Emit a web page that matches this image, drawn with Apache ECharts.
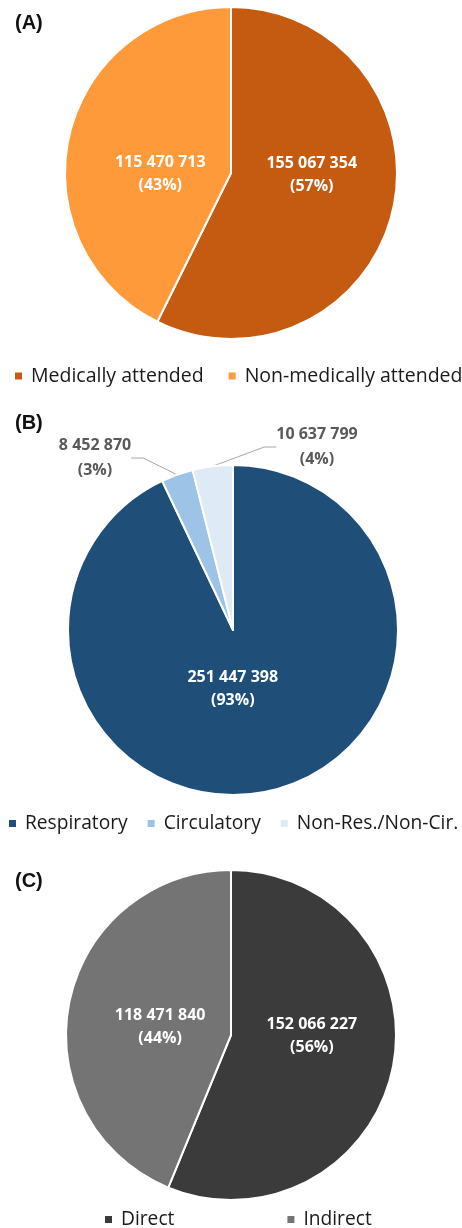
<!DOCTYPE html>
<html><head><meta charset="utf-8">
<script src="https://cdn.jsdelivr.net/npm/echarts@6/dist/echarts.min.js"></script>
<style>html,body{margin:0;padding:0;background:#fff}#c{width:462px;height:1228px}</style>
</head><body><div id="c"></div>
<script>
var catA = ['Medically attended', 'Non-medically attended'];
var valA = [155067354, 115470713];
var pctA = ['57%', '43%'];
var catB = ['Respiratory', 'Circulatory', 'Non-Res./Non-Cir.'];
var valB = [251447398, 8452870, 10637799];
var pctB = ['93%', '3%', '4%'];
var catC = ['Direct', 'Indirect'];
var valC = [152066227, 118471840];
var pctC = ['56%', '44%'];

var colA = ['#C55A11', '#FF9A3B'];
var colB = ['#1F4E79', '#9DC3E6', '#DEEBF7'];
var colC = ['#3B3B3B', '#747474'];

function fmt(v){ return String(v).replace(/\B(?=(\d{3})+(?!\d))/g, ' '); }
function mk(cats, vals, pcts, cols){
  return cats.map(function(c,i){ return {name:c, value:vals[i], pct:pcts[i], itemStyle:{color:cols[i]}}; });
}
var FONT = 'Open Sans';
var chart = echarts.init(document.getElementById('c'), null, {renderer:'canvas'});
var labelFmt = function(p){ return fmt(p.value) + '\n(' + p.data.pct + ')'; };
var innerLabel = {show:true, position:'inside', formatter:labelFmt, color:'#fff', fontWeight:'bold', fontSize:16, fontFamily:FONT, lineHeight:23};
function legendText(sz){ return {fontSize:sz, color:'#1a1a1a', fontFamily:FONT, padding:[0,0,0,3]}; }

// label nudges (pixels) per slice
var shiftA = [[-3,-18],[13,21]];
var shiftC = [[-3,-16],[13,9]];
var placeB = [null, [95,458], [317,447]];
var shiftB0 = [-19,-24];

function nudge(sh){ return function(p){ var s = sh[p.dataIndex]; return {dx:s[0], dy:s[1]}; }; }
var titleStyle = {fontSize:20, fontWeight:'bold', fontFamily:'Liberation Sans', color:'#111'};
function legend(cats, left, top, gap, sz){
  return {data:cats, left:left, top:top, width:460, padding:0, icon:'rect', itemWidth:9, itemHeight:9,
          itemGap:gap, textStyle:legendText(sz), selectedMode:false};
}

chart.setOption({
  animation:false,
  title:[
    {text:'(A)', left:10, top:8, textStyle:titleStyle},
    {text:'(B)', left:10, top:408, textStyle:titleStyle},
    {text:'(C)', left:10, top:866, textStyle:titleStyle}
  ],
  legend:[
    legend(catA, 13, 366, 23, 19.5),
    legend(catB, 7, 814, 18, 19.2),
    legend(catC, 103, 1210, 111, 19.2)
  ],
  series:[
    {type:'pie', center:[231,173], radius:166, startAngle:90, clockwise:true,
     itemStyle:{borderColor:'#fff', borderWidth:2}, label:innerLabel, labelLine:{show:false},
     labelLayout:nudge(shiftA),
     data:mk(catA, valA, pctA, colA)},
    {type:'pie', center:[233,630], radius:165, startAngle:90, clockwise:true,
     itemStyle:{borderColor:'#fff', borderWidth:2},
     label:{show:true, position:'outside', formatter:labelFmt, color:'#595959', fontWeight:'bold', fontSize:16, fontFamily:FONT, lineHeight:25, align:'center'},
     labelLine:{show:true, length:22, length2:12, lineStyle:{color:'#A6A6A6', width:1}},
     labelLayout:function(p){
       if(p.dataIndex===0) return {dx:shiftB0[0], dy:shiftB0[1]};
       var q = placeB[p.dataIndex];
       return {x:q[0], y:q[1], align:'center', verticalAlign:'middle'};
     },
     data:mk(catB, valB, pctB, colB).map(function(d,i){ if(i===0){ d.label = innerLabel; d.labelLine={show:false}; } return d; })},
    {type:'pie', center:[231,1035], radius:165, startAngle:90, clockwise:true,
     itemStyle:{borderColor:'#fff', borderWidth:2}, label:innerLabel, labelLine:{show:false},
     labelLayout:nudge(shiftC),
     data:mk(catC, valC, pctC, colC)}
  ]
});
</script></body></html>
